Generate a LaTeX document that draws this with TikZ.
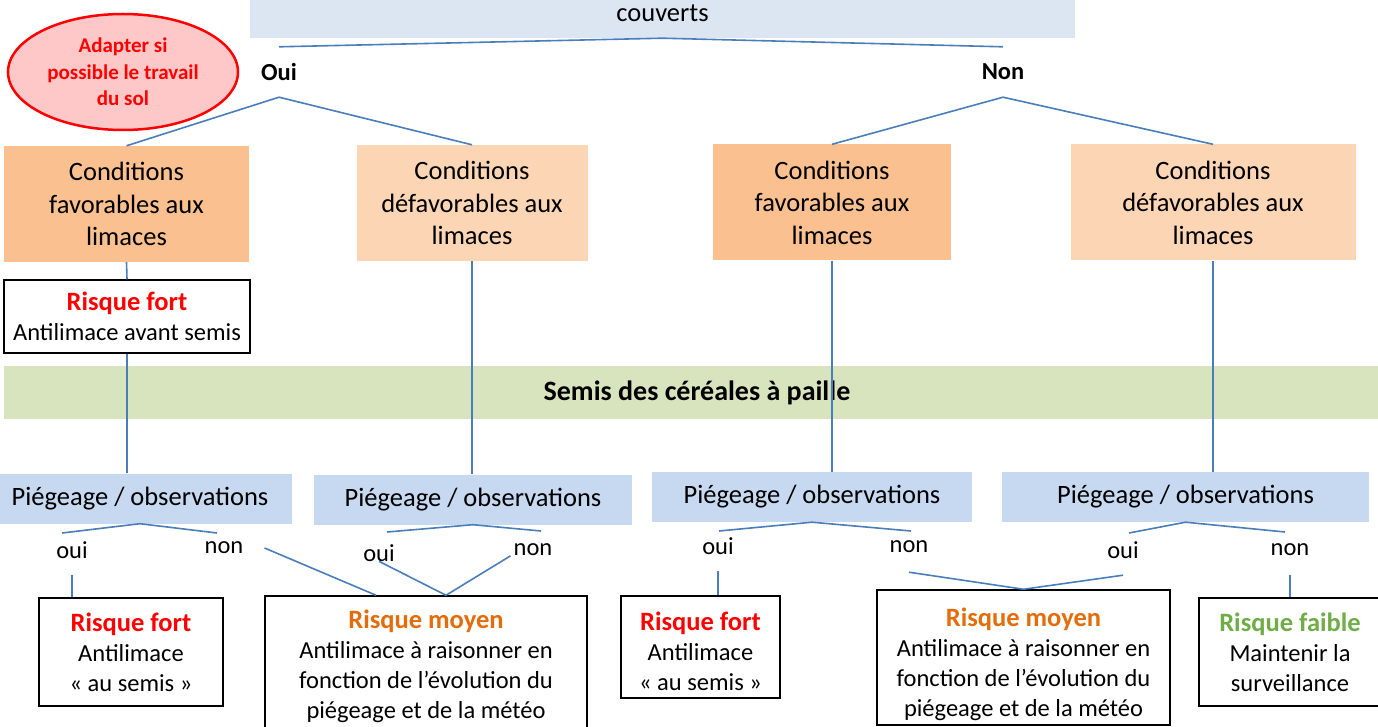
\documentclass[tikz,border=0pt]{standalone}
\usepackage{fontspec}
\setmainfont{Carlito}
\usetikzlibrary{shapes.geometric}

\definecolor{lienbleu}{HTML}{4A7EBB}
\definecolor{bleuhaut}{HTML}{DCE6F2}
\definecolor{orangefonce}{HTML}{FAC090}
\definecolor{orangeclair}{HTML}{FCD5B5}
\definecolor{bleupiege}{HTML}{C6D9F1}
\definecolor{vertsemis}{HTML}{D7E4BD}
\definecolor{roseclair}{HTML}{FFC8C8}
\definecolor{rouge}{HTML}{FF0000}
\definecolor{orangetxt}{HTML}{E46C0A}
\definecolor{verttxt}{HTML}{70AD47}

\newcommand{\titrerisque}[2]{\textcolor{#1}{\fontsize{26.5}{30}\selectfont\bfseries #2}}

\tikzset{
  lien/.style={draw=lienbleu, line width=1.6pt},
  boite/.style={inner sep=0pt, align=center},
  condfav/.style={boite, fill=orangefonce, minimum height=116pt, font=\fontsize{26.5}{32.5}\selectfont},
  conddef/.style={condfav, fill=orangeclair},
  piege/.style={boite, fill=bleupiege, minimum height=50pt, font=\fontsize{26.5}{32.5}\selectfont},
  risque/.style={boite, draw=black, line width=1.5pt, fill=white, font=\fontsize{24.5}{30}\selectfont},
  choix/.style={minimum height=50pt, inner sep=3pt, font=\fontsize{24.5}{30}\selectfont},
  branche/.style={choix, font=\fontsize{24.5}{30}\selectfont\bfseries},
}

\begin{document}
\begin{tikzpicture}[x=1pt, y=-1pt]
\useasboundingbox (0,0) rectangle (1378,727);
\node[boite, fill=bleuhaut, minimum width=825pt, minimum height=50pt, font=\fontsize{26.5}{32.5}\selectfont] (couv) at (662.5,13) {couverts};
\node[ellipse, draw=rouge, line width=2.5pt, fill=roseclair, minimum width=230pt, minimum height=116pt, inner sep=0pt, align=center, text=rouge, font=\fontsize{21}{26.5}\selectfont\bfseries] (adapt) at (123,72) {Adapter si\\possible le travail\\du sol};
\node[branche] (oui) at (279,72) {Oui};
\node[branche] (non) at (1003,72) {Non};
\node[condfav, minimum width=245pt] (cf1) at (126.5,204) {Conditions\\favorables aux\\limaces};
\node[conddef, minimum width=231pt] (cd1) at (472,203) {Conditions\\défavorables aux\\limaces};
\node[condfav, minimum width=238pt] (cf2) at (832,202.5) {Conditions\\favorables aux\\limaces};
\node[conddef, minimum width=285pt] (cd2) at (1213,202.5) {Conditions\\défavorables aux\\limaces};
\node[risque, minimum width=246pt, minimum height=73pt] (rfa) at (127,316.5) {\titrerisque{rouge}{Risque fort}\\Antilimace avant semis};
\node[boite, fill=vertsemis, minimum width=1386pt, minimum height=53pt, font=\fontsize{28}{32}\selectfont\bfseries] (semis) at (697,392.5) {Semis des céréales à paille};
\node[piege, minimum width=304pt] (p1) at (140,498.5) {Piégeage / observations};
\node[piege, minimum width=318pt] (p2) at (473,499.5) {Piégeage / observations};
\node[piege, minimum width=320pt] (p3) at (812,497) {Piégeage / observations};
\node[piege, minimum width=367pt] (p4) at (1185.5,497) {Piégeage / observations};
\node[choix] (o1) at (72,550) {oui};
\node[choix] (n1) at (224,548) {non};
\node[choix] (o2) at (379,553) {oui};
\node[choix] (n2) at (533,550) {non};
\node[choix] (o3) at (718,546) {oui};
\node[choix] (n3) at (909,547) {non};
\node[choix] (o4) at (1123,550) {oui};
\node[choix] (n4) at (1290,550) {non};
\node[risque, minimum width=184pt, minimum height=108pt] (rf1) at (131,652) {\titrerisque{rouge}{Risque fort}\\Antilimace\\«~au semis~»};
\node[risque, minimum width=322pt, minimum height=140pt] (rm1) at (426,666) {\titrerisque{orangetxt}{Risque moyen}\\Antilimace à raisonner en\\fonction de l’évolution du\\piégeage et de la météo};
\node[risque, minimum width=159pt, minimum height=102pt] (rf2) at (700.5,647) {\rule{0pt}{28pt}\titrerisque{rouge}{Risque fort}\\Antilimace\\«~au semis~»};
\node[risque, minimum width=293pt, minimum height=135pt] (rm2) at (1023.5,657.5) {\rule{0pt}{32pt}\titrerisque{orangetxt}{Risque moyen}\\Antilimace à raisonner en\\fonction de l’évolution du\\piégeage et de la météo};
\node[risque, minimum width=182pt, minimum height=108pt] (rfb) at (1290,652) {\titrerisque{verttxt}{Risque faible}\\Maintenir la\\surveillance};
\coordinate (p1g) at (62,533);
\coordinate (p1d) at (217,533);
\coordinate (p2g) at (387,532);
\coordinate (p2d) at (541,531);
\coordinate (p3g) at (719,531);
\coordinate (p3d) at (911,531);
\coordinate (p4g) at (1129,533);
\coordinate (p4d) at (1285,532);
\draw [lien] (oui.north) -- (couv.south) -- (non.north);
\draw [lien] (cf1.north) -- (oui.south) -- (cd1.north);
\draw [lien] (cf2.north) -- (non.south) -- (cd2.north);
\draw [lien] (cf1.south) -- (rfa.north);
\draw [lien] (rfa.south) -- (rfa.south |- p1.north);
\draw [lien] (cd1.south) -- (cd1.south |- p2.north);
\draw [lien] (cf2.south) -- (cf2.south |- p3.north);
\draw [lien] (cd2.south) -- (cd2.south |- p4.north);
\draw [lien] (p1g) -- (p1.south) -- (p1d);
\draw [lien] (p2g) -- (p2.south) -- (p2d);
\draw [lien] (p3g) -- (p3.south) -- (p3d);
\draw [lien] (p4g) -- (p4.south) -- (p4d);
\draw [lien] (o1.south) -- (o1.south |- rf1.north);
\draw [lien] ([xshift=18pt]n1.east) -- ([xshift=-50pt]rm1.north);
\draw [lien] (o2.base) -- ([xshift=20pt]rm1.north);
\draw [lien] (n2.base west) -- ([xshift=20pt]rm1.north);
\draw [lien] (o3.south) -- (o3.south |- rf2.north);
\draw [lien] (n3.south) -- (rm2.north);
\draw [lien] (o4.south) -- (rm2.north);
\draw [lien] (n4.south) -- (n4.south |- rfb.north);
\end{tikzpicture}
\end{document}
